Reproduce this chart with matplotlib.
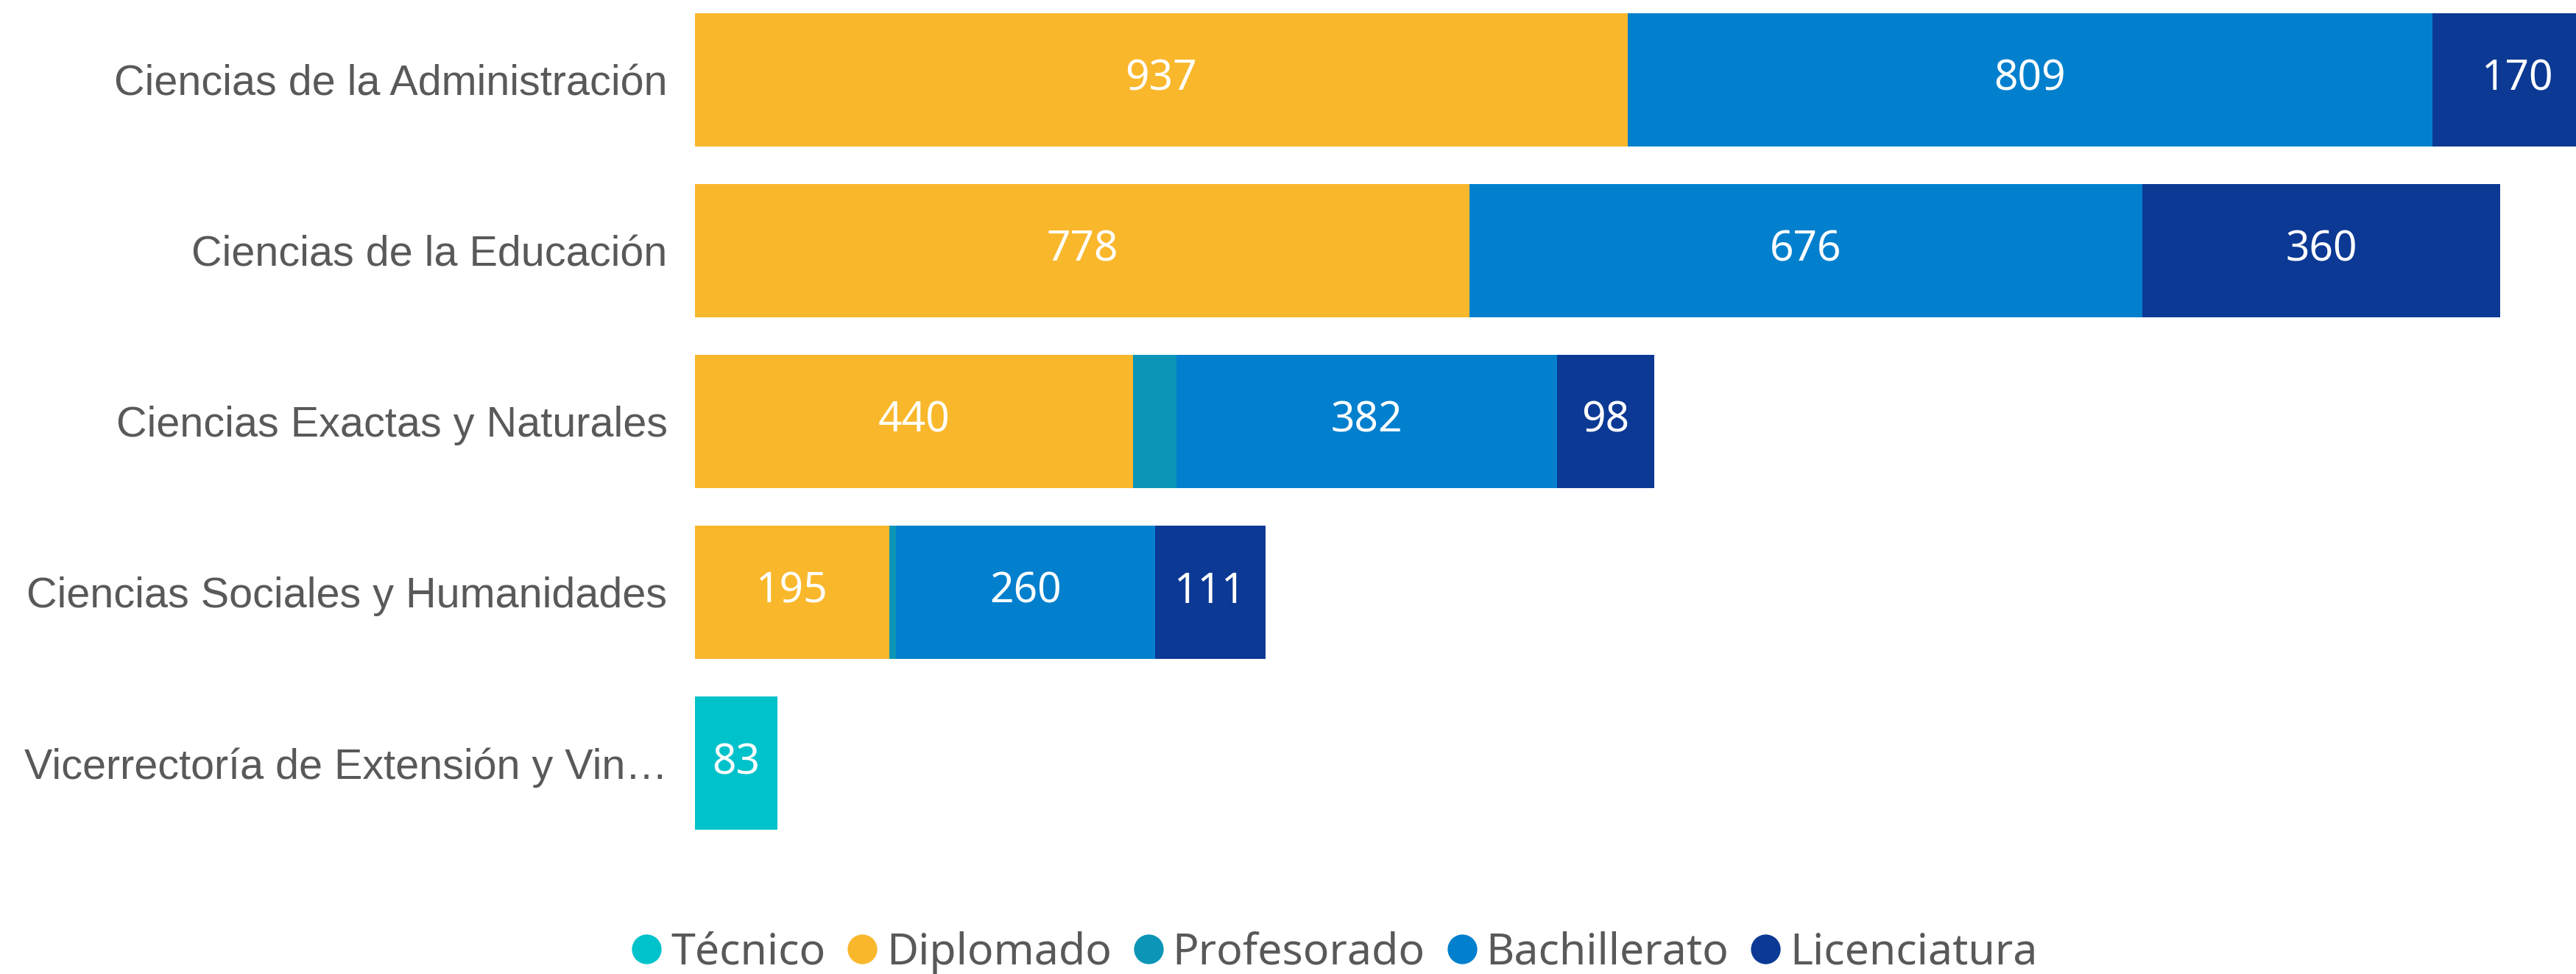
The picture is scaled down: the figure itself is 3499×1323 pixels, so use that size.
import matplotlib
matplotlib.use("Agg")
import matplotlib.pyplot as plt
from matplotlib.lines import Line2D
import numpy as np

categories = [
    "Ciencias de la Administración",
    "Ciencias de la Educación",
    "Ciencias Exactas y Naturales",
    "Ciencias Sociales y Humanidades",
    "Vicerrectoría de Extensión y Vin…",
]
series_names = ["Técnico", "Diplomado", "Profesorado", "Bachillerato", "Licenciatura"]
tecnico = [0, 0, 0, 0, 83]
diplomado = [937, 778, 440, 195, 0]
profesorado = [0, 0, 44, 7, 0]
bachillerato = [809, 676, 382, 260, 0]
licenciatura = [170, 360, 98, 111, 0]
series_values = [tecnico, diplomado, profesorado, bachillerato, licenciatura]
colors = ["#00C2CB", "#F9B72B", "#0B96B7", "#0280CE", "#0C3994"]
show_label = [True, True, False, True, True]

W, H, DPI = 3499, 1323, 100
fig = plt.figure(figsize=(W / DPI, H / DPI), dpi=DPI)
x0 = 944 / W
ax_bottom_px = 1200
ax = fig.add_axes([x0, 1 - ax_bottom_px / H, 1 - x0, ax_bottom_px / H])

y = np.arange(len(categories))
left = np.zeros(len(categories))
for name, vals, col, lab in zip(series_names, series_values, colors, show_label):
    vals = np.array(vals, dtype=float)
    bars = ax.barh(y, vals, left=left, height=0.78, color=col, edgecolor="none")
    if lab:
        for b, v in zip(bars, vals):
            if v > 0:
                ax.text(b.get_x() + b.get_width() / 2, b.get_y() + b.get_height() / 2,
                        f"{int(v)}", ha="center", va="center", color="white",
                        fontsize=41, family="Noto Sans", clip_on=False)
    left += vals

ax.set_xlim(0, 1890)
ax.set_ylim(4.704, -0.466)
ax.set_yticks(y)
ax.set_yticklabels(categories, fontsize=41.4, family="Liberation Sans", color="#595959")
ax.tick_params(axis="y", length=0, pad=27)
ax.set_xticks([])
for s in ax.spines.values():
    s.set_visible(False)

handles = [Line2D([0], [0], marker="o", linestyle="none", markersize=29,
                  markerfacecolor=c, markeredgecolor="none") for c in colors]
leg = fig.legend(handles, series_names, loc="center", bbox_to_anchor=(1811 / W, 1 - 1294 / H),
                 ncol=5, frameon=False, handletextpad=0.15, columnspacing=0.45,
                 handlelength=0.8, prop={"family": "Noto Sans", "size": 42.5})
for t in leg.get_texts():
    t.set_color("#595959")

fig.savefig("out.png", dpi=DPI)
